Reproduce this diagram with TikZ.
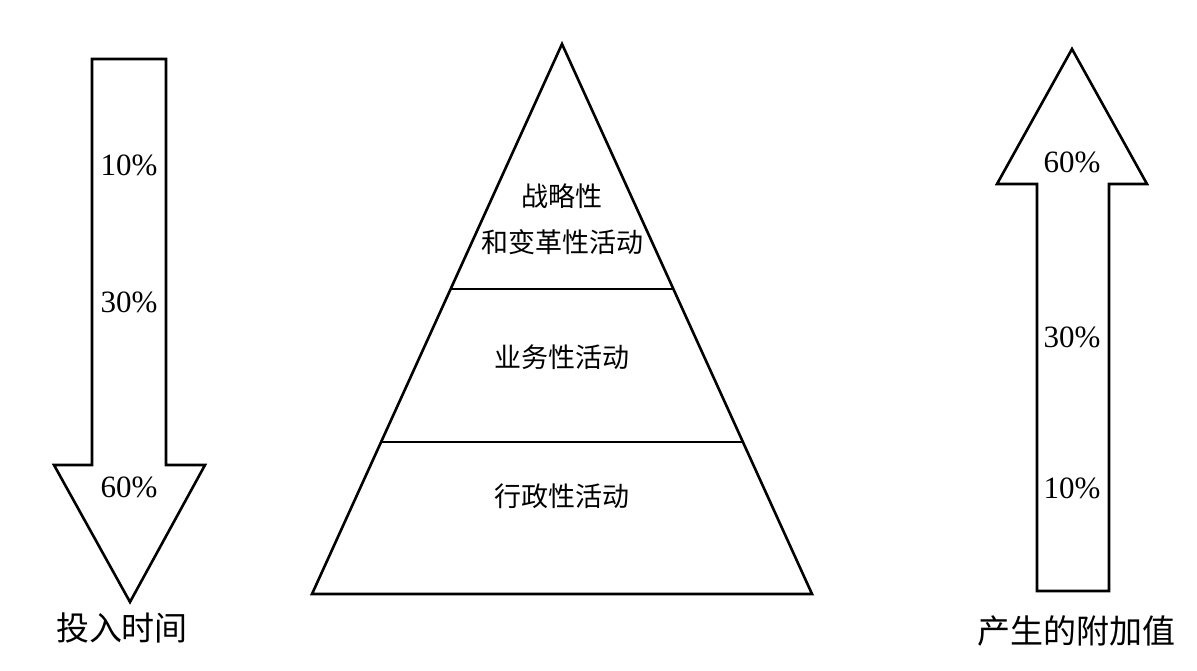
\documentclass[tikz,border=0pt]{standalone}
\usepackage{fontspec}
\setmainfont{Liberation Serif}
\newfontfamily\cjk{Noto Sans CJK SC}
\tikzset{
  outline/.style={line width=2.6pt, line join=miter},
  pct/.style={font=\fontsize{31}{31}\selectfont, inner sep=0pt},
  act/.style={font=\cjk\fontsize{27}{46}\selectfont, align=center, inner sep=0pt},
  caption/.style={font=\cjk\fontsize{33}{33}\selectfont, inner sep=0pt},
}
\begin{document}
\begin{tikzpicture}[x=1pt,y=-1pt]
        \useasboundingbox (0,0) rectangle (1197,670);
        % define point
        \coordinate (apex) at (562,44);
        \coordinate (bl)   at (312,594);
        \coordinate (br)   at (812,594);
        \coordinate (m1l)  at (451,289);
        \coordinate (m1r)  at (673,289);
        \coordinate (m2l)  at (381,442);
        \coordinate (m2r)  at (743,442);
        % pyramid
        \draw[outline] (apex) -- (br) -- (bl) -- cycle;
        \draw[outline] (m1l) -- (m1r);
        \draw[outline] (m2l) -- (m2r);
        \node[act] (top) at (562,219) {战略性\\和变革性活动};
        \node[act] (mid) at (562,357) {业务性活动};
        \node[act] (low) at (562,496) {行政性活动};
        % left arrow (down)
        \draw[outline] (92,59) -- (166,59) -- (166,465) -- (205,465)
                -- (130,602) -- (54,465) -- (92,465) -- cycle;
        \node[pct] (ltop) at (129,165) {10\%};
        \node[pct] (lmid) at (129,302) {30\%};
        \node[pct] (lbot) at (129,487) {60\%};
        \node[caption] (ltext) at (122,628) {投入时间};
        % right arrow (up)
        \draw[outline] (1037,591) -- (1109,591) -- (1109,184) -- (1147,184)
                -- (1072,49) -- (997,184) -- (1037,184) -- cycle;
        \node[pct] (rtop) at (1072,162) {60\%};
        \node[pct] (rmid) at (1072,337) {30\%};
        \node[pct] (rbot) at (1072,488) {10\%};
        \node[caption] (rtext) at (1076,631) {产生的附加值};
    \end{tikzpicture}
\end{document}
